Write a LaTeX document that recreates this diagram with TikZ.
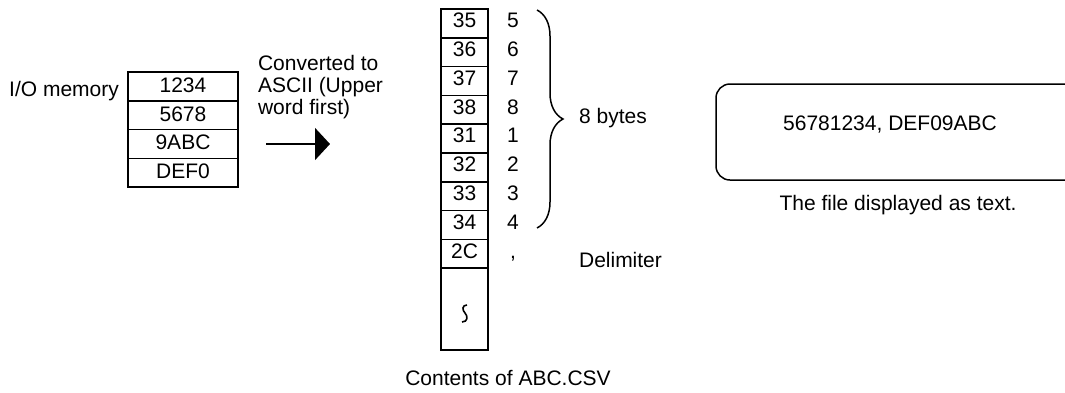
\documentclass[tikz,border=0pt]{standalone}
\usepackage{fontspec}
\setmainfont{Liberation Sans}
\usetikzlibrary{arrows.meta, decorations.pathreplacing}

\begin{document}
\begin{tikzpicture}[x=1pt, y=-1pt, line width=1.5pt,
  every node/.style={font=\fontsize{21}{22}\selectfont},
  word/.style={draw, minimum width=110pt, minimum height=28.75pt, inner sep=0pt,
    text height=2.4ex, text depth=0.1ex},
  cell/.style={draw, minimum width=47pt, minimum height=28.8pt, inner sep=0pt,
    text height=1.9ex, text depth=0.25ex},
  byte/.style={inner sep=0pt, text height=1.9ex, text depth=0.25ex}]
  \useasboundingbox (0, 0) rectangle (1065, 392);

  % I/O memory words
  \node[anchor=east] (iolabel) at (123, 91) {I/O memory};
  \foreach \w [count=\i] in {1234, 5678, 9ABC, DEF0}
    \node[word] (mem\i) at (183, {72 + 28.75*(\i - 0.5)}) {\w};

  \node[anchor=west, align=left] (convlabel) at (254, 87)
    {Converted to\\ASCII (Upper\\word first)};
  \coordinate (arrA) at (266, 144);
  \coordinate (arrB) at (330, 144);
  \draw[-{Triangle[length=15pt, width=32pt]}, line width=1.8pt] (arrA) -- (arrB);

  % contents of the file, one byte per cell
  \foreach \h/\c [count=\i] in {35/5, 36/6, 37/7, 38/8, 31/1, 32/2, 33/3, 34/4} {
    \node[cell] (cell\i) at (464.5, {9 + 28.8*(\i - 0.5)}) {\h};
    \node[byte] (chr\i) at (513, {9 + 28.8*(\i - 0.5)}) {\c};
  }
  \node[cell] (cell9) at (464.5, {9 + 28.8*8.5}) {2C};
  \node[byte] (chr9) at (513, {9 + 28.8*8.5}) {,};
  \node[cell, minimum height=82pt] (tail) at (464.5, 309) {};
  \draw[line width=1.6pt] (467, 305) .. controls (462, 305) and (462, 310) .. (465, 313)
    .. controls (468, 316) and (468, 322) .. (462, 322);

  \draw[decorate, decoration={brace, amplitude=26pt}, line width=1.5pt]
    (537, 10) -- (537, 228);
  \node[anchor=west] (bytes) at (575, 118) {8 bytes};
  \node[anchor=west] (delim) at (575, 260) {Delimiter};
  \node (contents) at (508, 378) {Contents of ABC.CSV};

  % file shown as text
  \begin{scope}
    \clip (0, 0) rectangle (1065, 392);
    \node[draw, rounded corners=14pt, minimum width=394pt, minimum height=96pt]
      (screen) at (913, 132) {};
  \end{scope}
  \node (shown) at (890, 125) {56781234, DEF09ABC};
  \node (caption) at (898, 205) {The file displayed as text.};
\end{tikzpicture}
\end{document}
